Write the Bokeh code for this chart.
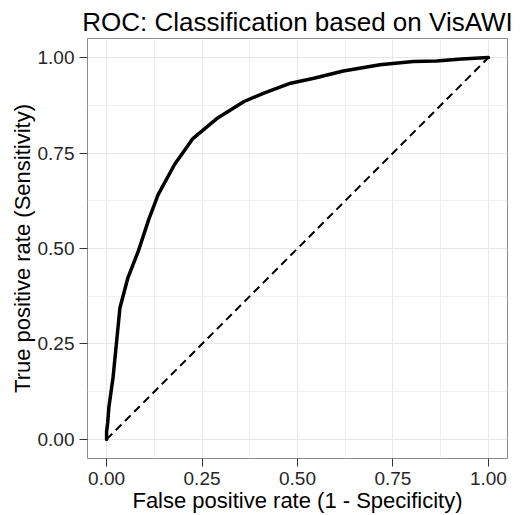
from bokeh.plotting import figure
from bokeh.models import Range1d, FixedTicker, Title
from bokeh.embed import file_html
from bokeh.resources import INLINE

# ROC curve values
fpr = [0.0, 0.0, 0.003, 0.006, 0.017, 0.035, 0.056, 0.083, 0.11, 0.135, 0.178,
       0.226, 0.291, 0.36, 0.412, 0.482, 0.543, 0.62, 0.716, 0.803, 0.864, 0.93, 1.0]
tpr = [0.0, 0.02, 0.045, 0.084, 0.163, 0.345, 0.424, 0.493, 0.575, 0.641, 0.72,
       0.788, 0.842, 0.885, 0.907, 0.933, 0.946, 0.965, 0.981, 0.99, 0.991, 0.996, 1.0]
diag_x = [0.0, 1.0]
diag_y = [0.0, 1.0]

tick_values = [0.0, 0.25, 0.5, 0.75, 1.0]
tick_labels = ["0.00", "0.25", "0.50", "0.75", "1.00"]
minor_values = [0.125, 0.375, 0.625, 0.875]

title_text = "ROC: Classification based on VisAWI"
x_title = "False positive rate (1 - Specificity)"
y_title = "True positive rate (Sensitivity)"

FONT = "Liberation Sans"

p = figure(width=527, height=515, output_backend="svg", toolbar_location=None,
           x_range=Range1d(-0.05, 1.05), y_range=Range1d(-0.05, 1.05),
           min_border_left=87, min_border_right=20, min_border_top=38,
           min_border_bottom=57)

t = Title(text=title_text, align="center", text_font=FONT, text_font_size="26px",
          text_font_style="normal", text_color="black", standoff=4)
p.add_layout(t, "above")

p.background_fill_color = "white"
p.border_fill_color = "white"
p.outline_line_color = "#8c8c8c"
p.outline_line_width = 1

for ax, lab in ((p.xaxis[0], x_title), (p.yaxis[0], y_title)):
    ax.ticker = FixedTicker(ticks=tick_values, minor_ticks=minor_values)
    ax.major_label_overrides = {v: s for v, s in zip(tick_values, tick_labels)}
    ax.axis_label = lab
    ax.axis_label_text_font = FONT
    ax.axis_label_text_font_size = "22px"
    ax.axis_label_text_font_style = "normal"
    ax.axis_label_text_color = "black"
    ax.major_label_text_font = FONT
    ax.major_label_text_font_size = "19px"
    ax.major_label_text_color = "#262626"
    ax.axis_line_color = None
    ax.major_tick_line_color = "#333333"
    ax.major_tick_line_width = 1
    ax.major_tick_out = 8
    ax.major_tick_in = 0
    ax.minor_tick_line_color = None
    ax.major_label_standoff = 5
    ax.axis_label_standoff = 0

for g in (p.xgrid[0], p.ygrid[0]):
    g.ticker = FixedTicker(ticks=tick_values, minor_ticks=minor_values)
    g.grid_line_color = "#e8e8e8"
    g.grid_line_width = 1
    g.minor_grid_line_color = "#f0f0f0"
    g.minor_grid_line_width = 1

p.line(diag_x, diag_y, line_color="black", line_width=2, line_dash="8 5")
p.line(fpr, tpr, line_color="black", line_width=3.5, line_join="round", line_cap="round")

open("out.html", "w").write(file_html(p, INLINE))
